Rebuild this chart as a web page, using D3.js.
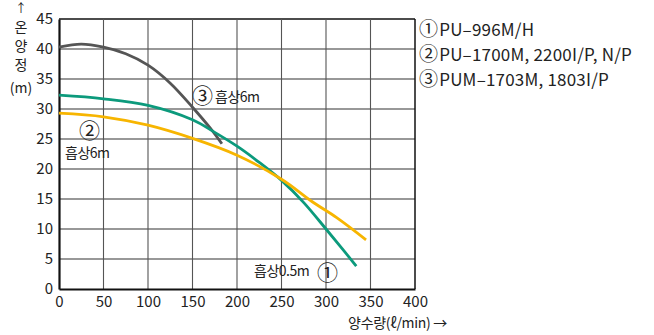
<!DOCTYPE html>
<html><head><meta charset="utf-8">
<script src="https://cdn.jsdelivr.net/npm/d3@7"></script>
<style>
body{margin:0;background:#fff;}
text{font-family:"Noto Sans CJK KR","Noto Sans",sans-serif;fill:#222;}
</style></head><body>
<svg id="c" width="654" height="335"></svg>
<script>
const xTicks=[0,50,100,150,200,250,300,350,400];
const yTicks=[0,5,10,15,20,25,30,35,40,45];
const flowA=[0,50,100,150,175,200,225,250,275,300,320,334];
const headA=[32.3,31.7,30.6,28.2,26.1,23.8,21.1,18.1,14.4,10.0,6.4,3.8];
const flowB=[0,50,100,150,200,250,285,312,345];
const headB=[29.3,28.7,27.3,25.1,22.3,18.3,14.5,11.9,8.2];
const flowC=[0,25,50,75,100,125,150,170,183];
const headC=[40.3,40.8,40.3,39.2,37.3,34.3,30.3,26.8,24.2];
const legendNum=["①","②","③"];
const legend=["PU–996M/H","PU–1700M, 2200I/P, N/P","PUM–1703M, 1803I/P"];
const colors={A:"#0c9a7c",B:"#f7b500",C:"#555555"};

const svg=d3.select("#c");
const x=d3.scaleLinear().domain([0,400]).range([59,415]);
const y=d3.scaleLinear().domain([0,45]).range([289,19]);

// grid
svg.append("g").selectAll("line").data(yTicks.slice(1)).join("line")
 .attr("x1",x(0)).attr("x2",x(400)).attr("y1",d=>y(d)).attr("y2",d=>y(d))
 .attr("stroke",d=>d===45?"#111":"#333").attr("stroke-width",d=>d===45?1.5:1.1);
svg.append("g").selectAll("line").data(xTicks.slice(1)).join("line")
 .attr("y1",y(0)).attr("y2",y(45)).attr("x1",d=>x(d)).attr("x2",d=>x(d))
 .attr("stroke",d=>d===400?"#111":"#555").attr("stroke-width",d=>d===400?1.5:1.1);

// axes
const xa=svg.append("g").attr("transform",`translate(0,${y(0)})`)
 .call(d3.axisBottom(x).tickValues(xTicks).tickSize(0).tickPadding(7));
const ya=svg.append("g").attr("transform",`translate(${x(0)},0)`)
 .call(d3.axisLeft(y).tickValues(yTicks).tickSize(0).tickPadding(6));
[xa,ya].forEach(g=>{g.select(".domain").attr("stroke","#111").attr("stroke-width",2.2);
 g.selectAll("text").style("font-size","15px").style("font-family","'Noto Sans CJK KR'").attr("fill","#222");});

// curves
const curve=d3.line().x(d=>x(d[0])).y(d=>y(d[1])).curve(d3.curveCatmullRom.alpha(0.5));
svg.append("path").datum(flowC.map((f,i)=>[f,headC[i]])).attr("d",curve)
 .attr("fill","none").attr("stroke",colors.C).attr("stroke-width",2.8);
svg.append("path").datum(flowA.map((f,i)=>[f,headA[i]])).attr("d",curve)
 .attr("fill","none").attr("stroke",colors.A).attr("stroke-width",2.8);
svg.append("path").datum(flowB.map((f,i)=>[f,headB[i]])).attr("d",curve)
 .attr("fill","none").attr("stroke",colors.B).attr("stroke-width",2.8);

// annotations
function lab(t,xx,yy,fs,ls){svg.append("text").attr("x",xx).attr("y",yy).style("font-size",(fs||14)+"px")
 .style("letter-spacing",(ls||0)+"px").text(t);}
lab("③",192,103,21); lab("흡상6m",215,102,14,-0.5);
lab("②",79,138,21); lab("흡상6m",65,158,14,-0.5);
lab("흡상0.5m",254,276,14,-0.5); lab("①",317,280,21);

// legend
legend.forEach((t,i)=>{
 const tx=svg.append("text").attr("x",419).attr("y",36+i*25).style("font-size","17px").style("letter-spacing","0.2px");
 tx.append("tspan").style("font-size","19px").text(legendNum[i]);
 tx.append("tspan").attr("dx",1).text(t);
});

// y title
["↑","온","양","정","(m)"].forEach((t,i)=>{
 svg.append("text").attr("x",21).attr("y",[13,32,51,70,93][i]).attr("text-anchor","middle")
  .style("font-size",(i===0?12:14)+"px").text(t);
});
// x title
svg.append("text").attr("x",447).attr("y",328).attr("text-anchor","end").style("font-size","14px").style("letter-spacing","-0.3px").text("양수량(ℓ/min) →");
</script></body></html>
